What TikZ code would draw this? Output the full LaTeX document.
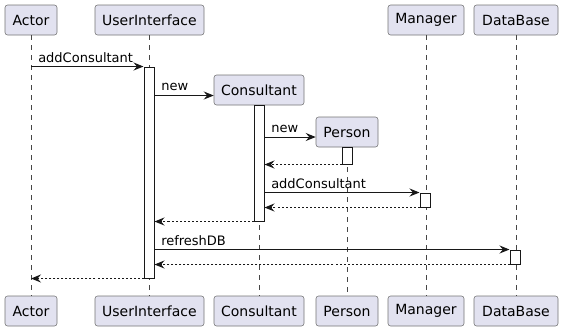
\documentclass[tikz,border=0pt]{standalone}
\usepackage{fontspec}
\setmainfont{DejaVu Sans}
\usetikzlibrary{arrows.meta,fit}
\definecolor{partfill}{HTML}{E2E2F0}
\definecolor{ink}{HTML}{181818}
\def\px{0.75pt}
\tikzset{
  part/.style={draw=ink!60, fill=partfill, rounded corners=1.9pt, line width=0.4pt,
    minimum height=22.5pt, inner sep=0pt, text=black, font=\fontsize{10.5}{12}\selectfont},
  bar/.style={draw=ink, fill=white, line width=0.75pt, inner sep=0pt},
  life/.style={draw=ink!80, line width=0.4pt, dash pattern=on 3.75pt off 3.75pt},
  msg/.style={draw=ink, line width=0.75pt, -{Stealth[length=7.5pt,width=6pt,inset=2.6pt]}},
  ret/.style={msg, dash pattern=on 1.5pt off 1.5pt},
  lbl/.style={inner sep=0pt, anchor=base west, text=black, font=\fontsize{9.75}{11}\selectfont}
}
\begin{document}
\begin{tikzpicture}[x=0.75pt, y=-0.75pt]
\useasboundingbox (0,0) rectangle (562,330);

% participants, top row
\node[part, minimum width=52*\px]  (actT) at (31,20)    {Actor};
\node[part, minimum width=109*\px] (uiT)  at (149.5,20) {UserInterface};
\node[part, minimum width=90*\px]  (conT) at (259,90)   {Consultant};
\node[part, minimum width=62*\px]  (perT) at (347,132)  {Person};
\node[part, minimum width=76*\px]  (manT) at (426,20)   {Manager};
\node[part, minimum width=84*\px]  (dbT)  at (516,20)   {DataBase};

% participants, bottom row
\node[part, minimum width=52*\px]  (actB) at (31,311)    {Actor};
\node[part, minimum width=109*\px] (uiB)  at (149.5,311) {UserInterface};
\node[part, minimum width=90*\px]  (conB) at (259,311)   {Consultant};
\node[part, minimum width=62*\px]  (perB) at (347,311)   {Person};
\node[part, minimum width=76*\px]  (manB) at (426,311)   {Manager};
\node[part, minimum width=84*\px]  (dbB)  at (516,311)   {DataBase};

% lifelines
\draw[life] (actT) -- (actB);
\draw[life] (uiT) -- (uiB);
\draw[life] (conT) -- (conB);
\draw[life] (perT) -- (perB);
\draw[life] (manT) -- (manB);
\draw[life] (dbT) -- (dbB);

% activation bars
\node[bar, fit={(144,67)(154,278)}]  (uiA)  {};
\node[bar, fit={(254,105)(264,221)}] (conA) {};
\node[bar, fit={(342,147)(352,164)}] (perA) {};
\node[bar, fit={(420,193)(430,207)}] (manA) {};
\node[bar, fit={(510,250)(520,264)}] (dbA)  {};

% messages
\draw[msg] (actT |- uiA.north) -- (uiA.north west);
\node[lbl] (l1) at (38,62.5) {addConsultant};

\draw[msg] (uiA.east |- 0,95.5) -- (conT.west |- 0,95.5);
\node[lbl] (l2) at (161,90.5) {new};

\draw[msg] (conA.east |- 0,137) -- (perT.west |- 0,137);
\node[lbl] (l3) at (271,132.5) {new};

\draw[ret] (perA.south west) -- (conA.east |- perA.south);

\draw[msg] (conA.east |- manA.north) -- (manA.north west);
\node[lbl] (l4) at (271,188.5) {addConsultant};

\draw[ret] (manA.south west) -- (conA.east |- manA.south);
\draw[ret] (conA.south west) -- (uiA.east |- conA.south);

\draw[msg] (uiA.east |- dbA.north) -- (dbA.north west);
\node[lbl] (l5) at (161,245.5) {refreshDB};

\draw[ret] (dbA.south west) -- (uiA.east |- dbA.south);
\draw[ret] (uiA.south west) -- (actT |- uiA.south);
\end{tikzpicture}
\end{document}
